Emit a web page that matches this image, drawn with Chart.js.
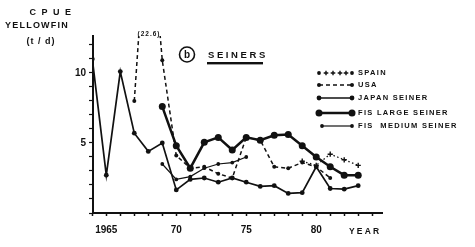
<!DOCTYPE html>
<html>
<head>
<meta charset="utf-8">
<script src="https://cdn.jsdelivr.net/npm/chart.js@4/dist/chart.umd.min.js"></script>
<style>
  html, body { margin: 0; padding: 0; background: #fff; }
  #wrap { width: 475px; height: 247px; }
</style>
</head>
<body>
<div id="wrap"><canvas id="cpueChart" width="475" height="247"></canvas></div>
<script>
// values (t/d), years on a linear axis
const spainYears = [1979, 1980, 1981, 1982, 1983];
const spainCpue = [3.7, 3.4, 4.2, 3.8, 3.4];

const usaYears = [1967, 1968, 1969, 1970, 1971, 1972, 1973, 1974, 1975, 1976, 1977, 1978, 1979, 1980, 1981];
const usaCpue = [8.0, 22.6, 10.9, 4.1, 3.2, 3.3, 2.8, 2.5, 5.4, 5.2, 3.3, 3.2, 3.6, 3.3, 2.5];

const japanYears = [1964, 1965, 1966, 1967, 1968, 1969, 1970, 1971, 1972, 1973, 1974, 1975, 1976, 1977, 1978, 1979, 1980, 1981, 1982, 1983];
const japanCpue = [11.0, 2.7, 10.1, 5.7, 4.4, 5.0, 1.65, 2.4, 2.5, 2.2, 2.5, 2.2, 1.9, 1.95, 1.4, 1.45, 3.3, 1.75, 1.7, 1.95];

const fisLargeYears = [1969, 1970, 1971, 1972, 1973, 1974, 1975, 1976, 1977, 1978, 1979, 1980, 1981, 1982, 1983];
const fisLargeCpue = [7.6, 4.8, 3.2, 5.05, 5.4, 4.5, 5.4, 5.2, 5.55, 5.6, 4.8, 4.0, 3.3, 2.7, 2.7];

const fisMediumYears = [1969, 1970, 1971, 1972, 1973, 1974, 1975];
const fisMediumCpue = [3.5, 2.4, 2.6, 3.2, 3.5, 3.6, 4.0];

const seriesNames = ['SPAIN', 'USA', 'JAPAN SEINER', 'FIS LARGE SEINER', 'FIS  MEDIUM SEINER'];
const xTickYears = [1964, 1965, 1966, 1967, 1968, 1969, 1970, 1971, 1972, 1973, 1974, 1975, 1976, 1977, 1978, 1979, 1980, 1981, 1982, 1983, 1984];
const xTickLabels = { 1965: '1965', 1970: '70', 1975: '75', 1980: '80' };
const yTickValues = [0, 1, 2, 3, 4, 5, 6, 7, 8, 9, 10, 11, 12];
const yTickLabels = { 5: '5', 10: '10' };

const ink = '#111';
const labelFont = '"Liberation Sans", Arial, sans-serif';

function pts(years, vals) {
    return years.map((y, i) => ({ x: y, y: vals[i] }));
}

function drawMarker(ctx, style, r, x, y) {
    ctx.save();
    ctx.fillStyle = ink;
    ctx.strokeStyle = ink;
    if (style === 'cross') {
        ctx.lineWidth = 1.4;
        ctx.beginPath();
        ctx.moveTo(x - r, y); ctx.lineTo(x + r, y);
        ctx.moveTo(x, y - r); ctx.lineTo(x, y + r);
        ctx.stroke();
    } else {
        ctx.beginPath();
        ctx.arc(x, y, r, 0, Math.PI * 2);
        ctx.fill();
    }
    ctx.restore();
}

const textPlugin = {
    id: 'figureText',
    afterDraw(chart) {
        const ctx = chart.ctx;
        ctx.save();
        ctx.fillStyle = ink;
        ctx.textBaseline = 'middle';
        ctx.textAlign = 'center';

        // y axis title
        ctx.font = 'bold 9px ' + labelFont;
        ctx.letterSpacing = '5.5px';
        ctx.fillText('CPUE', 53, 13);
        ctx.letterSpacing = '1.2px';
        ctx.fillText('YELLOWFIN', 37, 26);
        ctx.letterSpacing = '1px';
        ctx.fillText('(t / d)', 41, 42);

        // off-scale value
        ctx.font = 'bold 6.5px ' + labelFont;
        ctx.letterSpacing = '1px';
        ctx.fillText('(22.6)', 149, 34);

        // panel tag
        ctx.lineWidth = 1.6;
        ctx.strokeStyle = ink;
        ctx.beginPath();
        ctx.arc(187, 54.5, 7.5, 0, Math.PI * 2);
        ctx.stroke();
        ctx.font = 'bold 10px ' + labelFont;
        ctx.letterSpacing = '0px';
        ctx.fillText('b', 187, 55);

        ctx.textAlign = 'left';
        ctx.font = 'bold 9.5px ' + labelFont;
        ctx.letterSpacing = '2.6px';
        ctx.fillText('SEINERS', 208, 55);
        ctx.fillRect(207, 62, 56, 2.4);

        // x axis title
        ctx.font = 'bold 8.5px ' + labelFont;
        ctx.letterSpacing = '2.2px';
        ctx.fillText('YEAR', 349, 232);

        // legend
        const rows = [73, 85, 98, 113, 126];
        ctx.font = 'bold 7.5px ' + labelFont;
        ctx.letterSpacing = '1.3px';
        chart.data.datasets.forEach((ds, i) => {
            const y = rows[i];
            const x1 = i === 4 ? 322 : 319;
            const x2 = 352;
            ctx.save();
            ctx.strokeStyle = ink;
            ctx.lineWidth = ds.borderWidth;
            ctx.setLineDash(ds.borderDash || []);
            if (ds.pointStyle !== 'cross') {
                ctx.beginPath();
                ctx.moveTo(x1, y); ctx.lineTo(x2, y);
                ctx.stroke();
            }
            ctx.restore();
            if (ds.pointStyle === 'cross') {
                drawMarker(ctx, 'circle', 1.9, x1, y);
                [326, 333, 340, 346].forEach(cx => drawMarker(ctx, 'cross', 2.3, cx, y));
                drawMarker(ctx, 'circle', 1.9, x2, y);
            } else {
                drawMarker(ctx, 'circle', ds.pointRadius, x1, y);
                drawMarker(ctx, 'circle', ds.pointRadius, x2, y);
            }
            ctx.fillText(seriesNames[i], 358, y);
        });
        ctx.restore();
    }
};

var ctx = document.getElementById('cpueChart').getContext('2d');
var cpueChart = new Chart(ctx, {
    type: 'line',
    data: {
        datasets: [
            {
                label: seriesNames[0],
                data: pts(spainYears, spainCpue),
                borderColor: ink,
                borderWidth: 1.3,
                borderDash: [1.5, 2.5],
                pointStyle: 'cross',
                pointRadius: 2.6,
                pointBorderWidth: 1.4,
                pointBorderColor: ink,
                pointBackgroundColor: ink
            },
            {
                label: seriesNames[1],
                data: pts(usaYears, usaCpue),
                borderColor: ink,
                borderWidth: 1.5,
                borderDash: [4, 3],
                pointRadius: 2,
                pointBorderWidth: 0,
                pointBackgroundColor: ink
            },
            {
                label: seriesNames[2],
                data: pts(japanYears, japanCpue),
                borderColor: ink,
                borderWidth: 1.7,
                pointRadius: 2.4,
                pointBorderWidth: 0,
                pointBackgroundColor: ink
            },
            {
                label: seriesNames[3],
                data: pts(fisLargeYears, fisLargeCpue),
                borderColor: ink,
                borderWidth: 2.5,
                pointRadius: 3.5,
                pointBorderWidth: 0,
                pointBackgroundColor: ink
            },
            {
                label: seriesNames[4],
                data: pts(fisMediumYears, fisMediumCpue),
                borderColor: ink,
                borderWidth: 1.2,
                pointRadius: 1.9,
                pointBorderWidth: 0,
                pointBackgroundColor: ink
            }
        ]
    },
    options: {
        responsive: false,
        animation: false,
        events: [],
        layout: { padding: { top: 36, right: 93, left: 0, bottom: 0 } },
        elements: { line: { tension: 0 } },
        scales: {
            x: {
                type: 'linear',
                min: 1964.05,
                max: 1984.7,
                afterFit: function(axis) { axis.height = 34; },
                afterBuildTicks: function(axis) {
                    axis.ticks = xTickYears.map(v => ({ value: v }));
                },
                border: { color: ink, width: 2 },
                grid: { drawOnChartArea: false, color: ink, tickLength: 3, tickWidth: 1.5 },
                ticks: {
                    autoSkip: false,
                    maxRotation: 0,
                    padding: 8,
                    color: ink,
                    font: { family: labelFont, size: 10, weight: 'bold' },
                    callback: function(value) {
                        return xTickLabels[value] || '';
                    }
                }
            },
            y: {
                min: 0,
                max: 12.64,
                afterFit: function(axis) { axis.width = 93; },
                afterBuildTicks: function(axis) {
                    axis.ticks = yTickValues.map(v => ({ value: v }));
                },
                border: { color: ink, width: 2 },
                grid: { drawOnChartArea: false, color: ink, tickLength: 4, tickWidth: 1.2 },
                ticks: {
                    autoSkip: false,
                    padding: 3,
                    color: ink,
                    font: { family: labelFont, size: 10, weight: 'bold' },
                    callback: function(value) {
                        return yTickLabels[value] || '';
                    }
                }
            }
        },
        plugins: {
            legend: { display: false },
            tooltip: { enabled: false }
        }
    },
    plugins: [textPlugin]
});
</script>
</body>
</html>
